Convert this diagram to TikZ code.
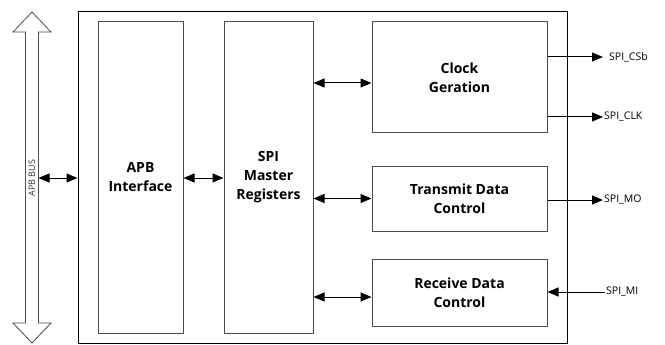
\documentclass[tikz,border=0pt]{standalone}
\usepackage{fontspec}
\setmainfont{Open Sans}
\usetikzlibrary{arrows.meta}
\newcommand{\blockmid}{177.5}

\tikzset{
	block/.style={draw=black!70, line width=1pt, align=center, inner sep=0pt, font=\bfseries\fontsize{14}{19}\selectfont},
	pinlabel/.style={inner sep=1pt, font=\fontsize{10.5}{12}\selectfont},
	link/.style={line width=1pt, {Triangle[length=11pt,width=9pt]}-{Triangle[length=11pt,width=9pt]}},
	sig/.style={line width=1pt, -{Triangle[length=11pt,width=9pt]}}
}

\begin{document}
\begin{tikzpicture}[x=1pt,y=-1pt]
	\useasboundingbox (0,0) rectangle (665,345);

	% controller frame
	\node[draw, line width=1pt, minimum width=489pt, minimum height=331pt] (chip) at (322.5,\blockmid) {};

	\node[block, minimum width=85pt, minimum height=311pt] (apb) at (140.5,\blockmid) {APB\\Interface};
	\node[block, minimum width=89pt, minimum height=311pt] (regs) at (268.5,\blockmid) {SPI\\Master\\Registers};
	\node[block, minimum width=175pt, minimum height=111pt] (clk) at (459.5,77.5) {Clock\\Geration};
	\node[block, minimum width=175pt, minimum height=65pt] (tx) at (459.5,198.5) {Transmit Data\\Control};
	\node[block, minimum width=175pt, minimum height=67pt] (rx) at (459.5,292.5) {Receive Data\\Control};

	% system bus
	\draw[black!70, line width=0.8pt] (25.5,32) -- (13,32) -- (32,12) -- (51,32) -- (38.5,32) -- (38.5,323) -- (51,323) -- (32,343) -- (13,323) -- (25.5,323) -- cycle;
	\node[rotate=90, text=black!80, font=\fontsize{9}{11}\selectfont] (buslabel) at (32,178) {APB BUS};
	\coordinate (busport) at (38.5,178);

	\draw[link] (busport) -- (chip.west |- busport);
	\draw[link] (apb.east |- 0,178) -- (regs.west |- 0,178);
	\draw[link] (regs.east |- 0,83) -- (clk.west |- 0,83);
	\draw[link] (regs.east |- tx.west) -- (tx.west);
	\draw[link] (regs.east |- 0,297) -- (rx.west |- 0,297);

	% pins
	\node[pinlabel, anchor=west] (csb) at (608,57) {SPI\_CSb};
	\node[pinlabel, anchor=west] (sclk) at (603,117) {SPI\_CLK};
	\node[pinlabel, anchor=west] (mo) at (603,200) {SPI\_MO};
	\node[pinlabel, anchor=west] (mi) at (605,292) {SPI\_MI};

	\draw[sig] (clk.east |- csb) -- ([xshift=-5pt]csb.west);
	\draw[sig] (clk.east |- sclk) -- (sclk.west);
	\draw[sig] (tx.east |- mo) -- (mo.west);
	\draw[sig] (mi.west) -- (rx.east |- mi);

\end{tikzpicture}
\end{document}
